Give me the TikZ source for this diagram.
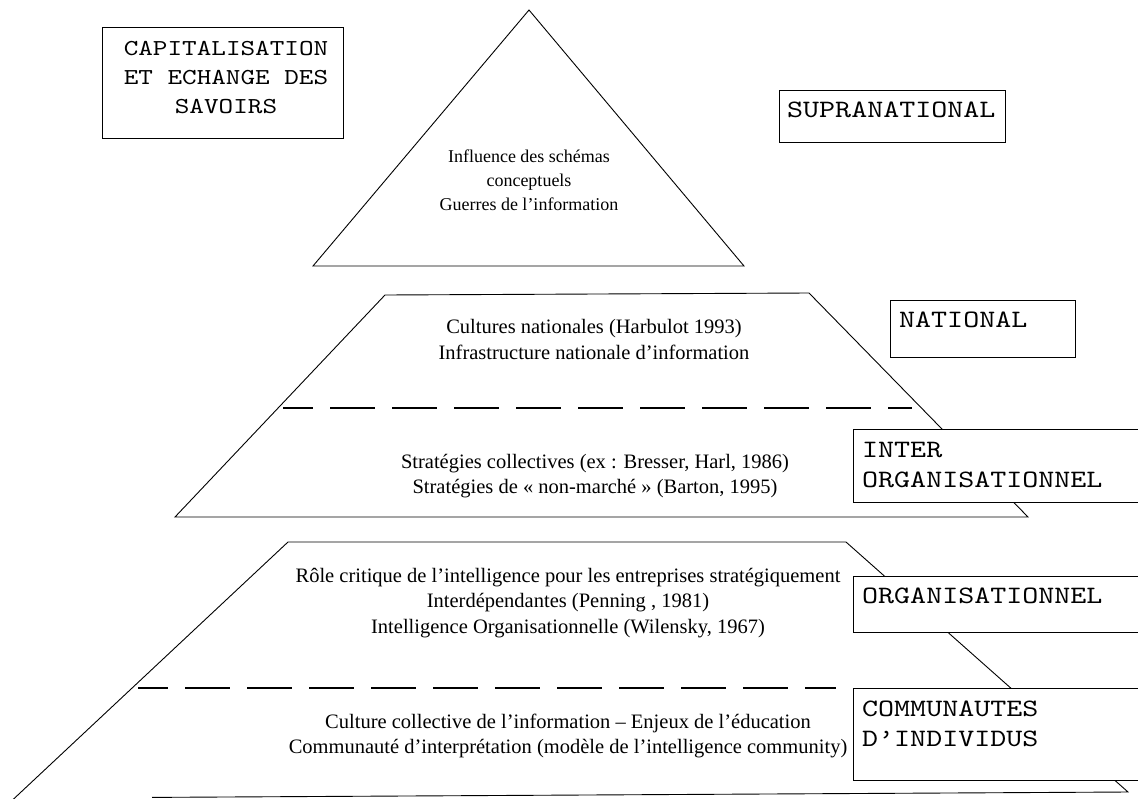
\documentclass[tikz,border=0pt]{standalone}
\usepackage{fontspec}
\setmainfont{Liberation Serif}
\newfontfamily\boxfont[FakeStretch=1.22]{lmmono10-regular.otf}
\begin{document}
\begin{tikzpicture}[x=1pt,y=-1pt,
  edge/.style={line width=0.9pt, line join=miter},
  frame/.style={draw, line width=1.3pt, fill=white, rectangle, inner sep=0pt, anchor=north west},
  tag/.style={font=\boxfont\fontsize{25}{30}\selectfont, inner sep=0pt, anchor=west, align=left},
  ctag/.style={font=\boxfont\fontsize{22.8}{29}\selectfont, inner sep=0pt, align=center},
  toptext/.style={font=\fontsize{18}{24}\selectfont, inner sep=0pt, align=center},
  body/.style={font=\fontsize{20.5}{25.5}\selectfont, inner sep=0pt, align=center},
  sep/.style={line width=1.2pt, dash pattern=on 45pt off 17pt, dash phase=15pt}]
\useasboundingbox (0,0) rectangle (1138,798);
\clip (0,0) rectangle (1138,798);

% level 1: supranational triangle
\coordinate (apex) at (529,10);
\coordinate (triL) at (313,266);
\coordinate (triR) at (744,266);
\draw[edge] (apex) -- (triR) -- (triL) -- cycle;

% level 2: national / inter-organisational trapezoid
\coordinate (nTL) at (385,295);
\coordinate (nTR) at (809,293);
\coordinate (nBR) at (1028,517);
\coordinate (nBL) at (175,517);
\draw[edge] (nTL) -- (nTR) -- (nBR) -- (nBL) -- cycle;
\coordinate (nDa) at (283,408);
\coordinate (nDb) at (912,408);
\draw[sep] (nDa) -- (nDb);

% level 3: organisational / communities trapezoid (runs off the lower edge)
\coordinate (oBL) at (12,800.5);
\coordinate (oTL) at (288,542);
\coordinate (oTR) at (846,542);
\coordinate (oBR) at (1128,792);
\coordinate (oBE) at (152,797.4);
\draw[edge] (oBL) -- (oTL) -- (oTR) -- (oBR) -- (oBE);
\coordinate (oDa) at (138,688);
\coordinate (oDb) at (836,688);
\draw[sep] (oDa) -- (oDb);

% level boxes
\node[frame, minimum width=241pt, minimum height=111pt] (capbox) at (102,27) {};
\node[frame, minimum width=226pt, minimum height=52pt] (supbox) at (779,90) {};
\node[frame, minimum width=185pt, minimum height=57pt] (natbox) at (890,300) {};
\node[frame, minimum width=300pt, minimum height=73pt] (intbox) at (853,429) {};
\node[frame, minimum width=300pt, minimum height=56pt] (orgbox) at (853,576) {};
\node[frame, minimum width=300pt, minimum height=92pt] (combox) at (853,688) {};

% box labels
\node[ctag] (captxt) at (226,78) {CAPITALISATION\\ET ECHANGE DES\\SAVOIRS};
\node[tag] (suptxt) at (787,110) {SUPRANATIONAL};
\node[tag] (nattxt) at (899,320) {NATIONAL};
\node[tag] (inttxt) at (862,465) {INTER\\ORGANISATIONNEL};
\node[tag] (orgtxt) at (862,596) {ORGANISATIONNEL};
\node[tag] (comtxt) at (862,723.5) {COMMUNAUTES\\D’INDIVIDUS};

% contents of each level
\node[toptext] (tritxt) at (529,180) {Influence des schémas\\conceptuels\\Guerres de l’information};
\node[body] (nattheme) at (594,339.5) {Cultures nationales (Harbulot 1993)\\Infrastructure nationale d’information};
\node[body] (inttheme) at (595,476) {Stratégies collectives (ex : Bresser, Harl, 1986)\\Stratégies de « non-marché » (Barton, 1995)};
\node[body] (orgtheme) at (568,603) {Rôle critique de l’intelligence pour les entreprises stratégiquement\\Interdépendantes (Penning , 1981)\\Intelligence Organisationnelle (Wilensky, 1967)};
\node[body] (comtheme) at (568,736) {Culture collective de l’information – Enjeux de l’éducation\\Communauté d’interprétation (modèle de l’intelligence community)};
\end{tikzpicture}
\end{document}
